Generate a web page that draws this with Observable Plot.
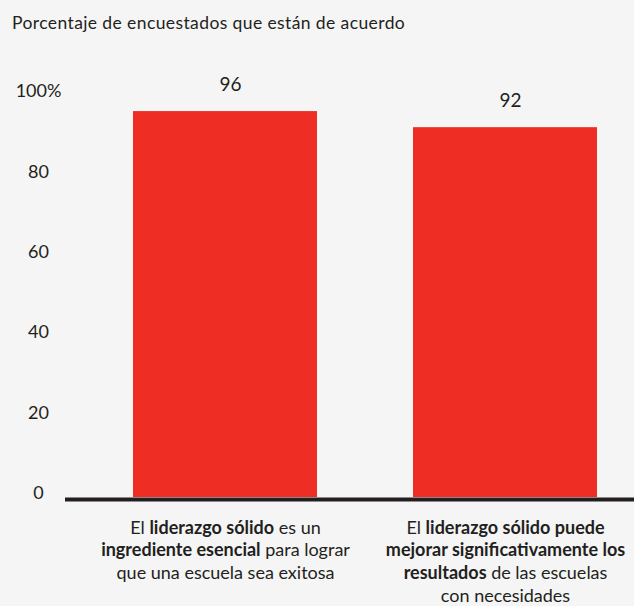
<!DOCTYPE html>
<html><head><meta charset="utf-8">
<script src="https://cdn.jsdelivr.net/npm/d3@7"></script>
<script src="https://cdn.jsdelivr.net/npm/@observablehq/plot@0.6"></script>
<style>
html,body{margin:0;padding:0;background:#f5f5f5;}
body{font-family:Lato,"Noto Sans",sans-serif;color:#231f20;width:634px;height:606px;overflow:hidden;}
#title{box-sizing:border-box;height:40px;padding:14px 0 0 12px;font-size:17.5px;line-height:17.5px;letter-spacing:0.4px;}
#chart svg{display:block;}
</style></head><body>
<div id="title"></div>
<div id="chart"></div>
<script>
const titleText = "Porcentaje de encuestados que están de acuerdo";
const categories = [
  "El **liderazgo sólido** es un\n**ingrediente esencial** para lograr\nque una escuela sea exitosa",
  "El **liderazgo sólido puede**\n**mejorar significativamente los**\n**resultados** de las escuelas\ncon necesidades"
];
const values = [96, 92];
const yTicks = [0, 20, 40, 60, 80, 100];
const yTickLabels = ["0", "20", "40", "60", "80", "100%"];

document.getElementById("title").textContent = titleText;
const data = categories.map((c, i) => ({cat: c, value: values[i]}));
const ink = "#231f20";

const plot = Plot.plot({
  width: 634, height: 566,
  marginLeft: 65, marginRight: 0, marginTop: 55, marginBottom: 109,
  style: {background: "transparent", fontFamily: "Lato, 'Noto Sans', sans-serif", color: ink},
  x: {domain: categories, paddingInner: 0.343, paddingOuter: 0.1875, align: 0.648},
  y: {domain: [0, 100]},
  marks: [
    Plot.barY(data, {x: "cat", y: "value", fill: "#ee2e24"}),
    Plot.ruleY([0], {stroke: ink, strokeWidth: 4, dy: 2}),
    Plot.text(data, {x: "cat", y: "value", text: d => String(d.value), dy: -27, dx: 5, fontSize: 19, fill: ink}),
    Plot.axisY({ticks: yTicks, tickFormat: d => yTickLabels[yTicks.indexOf(d)], tickSize: 0, tickPadding: 27, textAnchor: "middle", dy: -4, fontSize: 18, fill: ink, label: null}),
    Plot.axisX({tickSize: 0, tickPadding: 20, fontSize: 18, lineHeight: 1.26, fill: ink, tickFormat: d => d.replace(/\*\*/g, ""), label: null})
  ]
});
document.getElementById("chart").appendChild(plot);

// apply bold segments to category labels
const labelTexts = plot.querySelectorAll('g[aria-label="x-axis tick label"] text');
labelTexts.forEach((t, i) => {
  const lines = categories[i].split("\n");
  const spans = t.querySelectorAll("tspan");
  const targets = spans.length ? Array.from(spans) : [t];
  targets.forEach((sp, j) => {
    const parts = lines[j].split("**");
    sp.textContent = "";
    parts.forEach((p, k) => {
      if (!p) return;
      const s = document.createElementNS("http://www.w3.org/2000/svg", "tspan");
      s.textContent = p;
      if (k % 2 === 1) s.setAttribute("font-weight", "bold");
      sp.appendChild(s);
    });
  });
});
</script>
</body></html>
